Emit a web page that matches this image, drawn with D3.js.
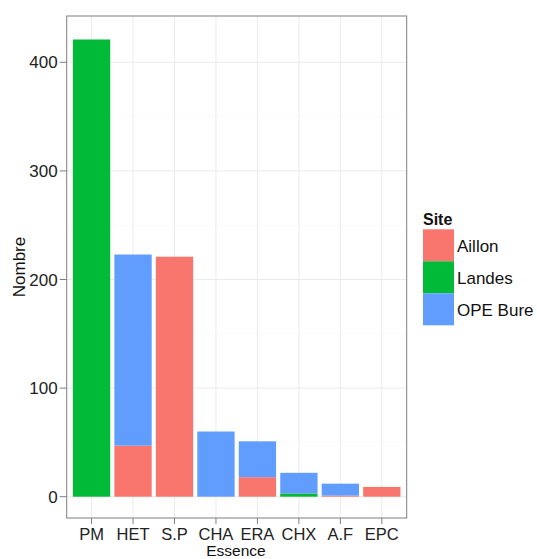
<!DOCTYPE html>
<html><head><meta charset="utf-8">
<script src="https://cdn.jsdelivr.net/npm/d3@7"></script>
<style>body{margin:0;background:#fff}svg{display:block;font-family:"Liberation Sans",Arial,sans-serif}</style>
</head><body><svg id="c" width="537" height="559"></svg>
<script>
const categories = ["PM","HET","S.P","CHA","ERA","CHX","A.F","EPC"];
const sites = ["Aillon","Landes","OPE Bure"];
const aillon  = [0, 47, 221, 0, 18, 0, 1, 9];
const landes  = [421, 0, 0, 0, 0, 3, 0, 0];
const opeBure = [0, 176, 0, 60, 33, 19, 11, 0];
const colors = ["#F8766D","#00BA38","#619CFF"];
const yTicks = [0,100,200,300,400];
const yMinor = [50,150,250,350];

const svg = d3.select("#c");
const L = 66.7, R = 406.7, T = 16, B = 518;
const y = d3.scaleLinear().domain([0,100]).range([496.7, 388.1]);
const unit = (R-L)/8.2;
const xc = i => L + (0.6 + i)*unit;
const bw = 0.9*unit;

const rows = categories.map((c,i)=>({cat:c, Aillon:aillon[i], Landes:landes[i], "OPE Bure":opeBure[i]}));
const stack = d3.stack().keys(sites)(rows);

const g = svg.append("g");
g.append("rect").attr("x",L).attr("y",T).attr("width",R-L).attr("height",B-T).attr("fill","#fff");
g.selectAll(".mn").data(yMinor).join("line").attr("x1",L).attr("x2",R).attr("y1",d=>y(d)).attr("y2",d=>y(d)).attr("stroke","#FAFAFA").attr("stroke-width",1);
g.selectAll(".mj").data(yTicks).join("line").attr("x1",L).attr("x2",R).attr("y1",d=>y(d)).attr("y2",d=>y(d)).attr("stroke","#EBEBEB").attr("stroke-width",1);
g.selectAll(".vx").data(categories).join("line").attr("x1",(d,i)=>xc(i)).attr("x2",(d,i)=>xc(i)).attr("y1",T).attr("y2",B).attr("stroke","#EBEBEB").attr("stroke-width",1);

stack.forEach((layer,k)=>{
  g.selectAll(".b"+k).data(layer).join("rect")
    .attr("x",(d,i)=>xc(i)-bw/2).attr("width",bw)
    .attr("y",d=>y(d[1])).attr("height",d=>Math.max(0,y(d[0])-y(d[1])))
    .attr("fill",colors[k]);
});
g.append("rect").attr("x",L).attr("y",T).attr("width",R-L).attr("height",B-T).attr("fill","none").attr("stroke","#7F7F7F").attr("stroke-width",1);

// y axis
g.selectAll(".yt").data(yTicks).join("line").attr("x1",L-7).attr("x2",L).attr("y1",d=>y(d)).attr("y2",d=>y(d)).attr("stroke","#7F7F7F");
g.selectAll(".yl").data(yTicks).join("text").attr("x",L-9).attr("y",d=>y(d)).attr("dy","0.36em").attr("text-anchor","end").attr("font-size",17).attr("fill","#222").text(d=>d);
// x axis
g.selectAll(".xt").data(categories).join("line").attr("x1",(d,i)=>xc(i)).attr("x2",(d,i)=>xc(i)).attr("y1",B).attr("y2",B+6).attr("stroke","#7F7F7F");
g.selectAll(".xl").data(categories).join("text").attr("x",(d,i)=>xc(i)).attr("y",539.5).attr("text-anchor","middle").attr("font-size",16.5).attr("fill","#222").text(d=>d);

svg.append("text").attr("x",236).attr("y",556).attr("text-anchor","middle").attr("font-size",15.5).attr("fill","#111").text("Essence");
svg.append("text").attr("transform","translate(24.5,267) rotate(-90)").attr("text-anchor","middle").attr("font-size",17).attr("fill","#111").text("Nombre");

// legend
svg.append("text").attr("x",423).attr("y",225).attr("font-size",16).attr("font-weight","bold").attr("fill","#111").text("Site");
sites.forEach((s,k)=>{
  svg.append("rect").attr("x",423).attr("y",229.3+k*32).attr("width",31).attr("height",32).attr("fill",colors[k]);
  svg.append("text").attr("x",457).attr("y",229.3+k*32+17).attr("dy","0.36em").attr("font-size",17).attr("fill","#111").text(s);
});
</script></body></html>
